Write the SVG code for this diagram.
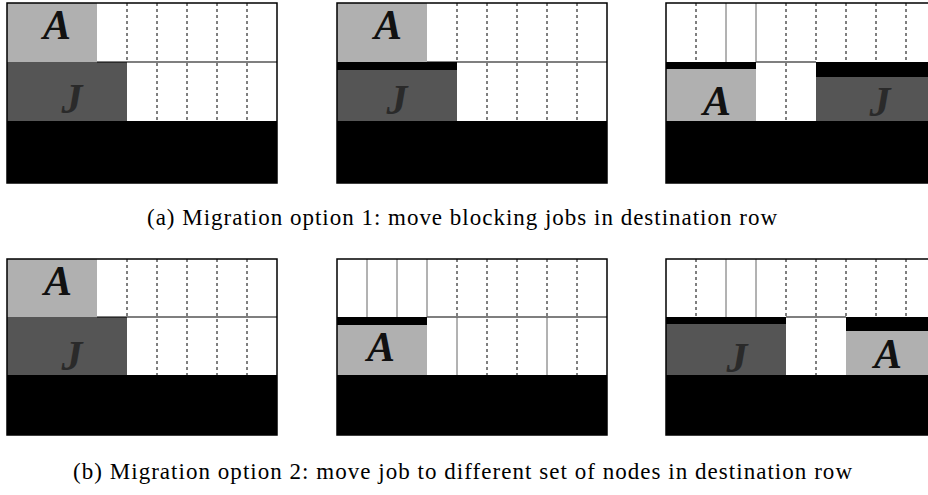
<svg xmlns="http://www.w3.org/2000/svg" width="928" height="495" viewBox="0 0 928 495">
<style>
.bg{fill:#fff}
.frame{fill:none;stroke:#000;stroke-width:1.5}
.a{fill:#b0b0b0}
.j{fill:#555}
.blk{fill:#000}
.sep{stroke:#000;stroke-width:1.2}
.dash{stroke:#000;stroke-width:1;stroke-dasharray:3 3}
.solid{stroke:#666;stroke-width:1}
.la{font-family:"Liberation Serif","Times New Roman",serif;font-weight:bold;font-style:italic;font-size:42px;fill:#111;text-anchor:middle}
.lj{font-family:"Liberation Serif","Times New Roman",serif;font-weight:bold;font-style:italic;font-size:42px;fill:#2a2a2a;text-anchor:middle}
.cap{font-family:"Liberation Serif","Times New Roman",serif;font-size:23px;fill:#000}
</style>

<g id="panel-a1">
<rect class="bg" x="7" y="3" width="270" height="180"/>
<rect class="a" x="7" y="3" width="90" height="59"/>
<rect class="j" x="7" y="62" width="120" height="59"/>
<rect class="blk" x="7" y="121" width="270" height="62"/>
<line class="sep" x1="97" y1="62" x2="277" y2="62"/>
<line class="dash" x1="127" y1="3" x2="127" y2="62"/>
<line class="dash" x1="157" y1="3" x2="157" y2="121"/>
<line class="dash" x1="187" y1="3" x2="187" y2="121"/>
<line class="dash" x1="217" y1="3" x2="217" y2="121"/>
<line class="dash" x1="247" y1="3" x2="247" y2="121"/>
<rect class="frame" x="7" y="3" width="270" height="180"/>
<text class="la" x="57" y="39">A</text>
<text class="lj" x="72" y="113">J</text>
</g>

<g id="panel-a2">
<rect class="bg" x="337" y="3" width="270" height="180"/>
<rect class="a" x="337" y="3" width="90" height="59"/>
<rect class="blk" x="337" y="62" width="120" height="8"/>
<rect class="j" x="337" y="70" width="120" height="51"/>
<rect class="blk" x="337" y="121" width="270" height="62"/>
<line class="sep" x1="427" y1="62" x2="607" y2="62"/>
<line class="dash" x1="457" y1="3" x2="457" y2="62"/>
<line class="dash" x1="487" y1="3" x2="487" y2="121"/>
<line class="dash" x1="517" y1="3" x2="517" y2="121"/>
<line class="dash" x1="547" y1="3" x2="547" y2="121"/>
<line class="dash" x1="577" y1="3" x2="577" y2="121"/>
<rect class="frame" x="337" y="3" width="270" height="180"/>
<text class="la" x="388" y="39">A</text>
<text class="lj" x="397" y="114">J</text>
</g>

<g id="panel-a3">
<rect class="bg" x="666" y="3" width="270" height="180"/>
<rect class="blk" x="666" y="62" width="90" height="7"/>
<rect class="a" x="666" y="69" width="90" height="52"/>
<rect class="blk" x="816" y="62" width="120" height="15"/>
<rect class="j" x="816" y="77" width="120" height="44"/>
<rect class="blk" x="666" y="121" width="270" height="62"/>
<line class="sep" x1="756" y1="62" x2="816" y2="62"/>
<line class="dash" x1="696" y1="3" x2="696" y2="62"/>
<line class="solid" x1="726" y1="3" x2="726" y2="62"/>
<line class="solid" x1="756" y1="3" x2="756" y2="62"/>
<line class="dash" x1="786" y1="3" x2="786" y2="121"/>
<line class="dash" x1="816" y1="3" x2="816" y2="62"/>
<line class="dash" x1="846" y1="3" x2="846" y2="62"/>
<line class="dash" x1="876" y1="3" x2="876" y2="62"/>
<line class="dash" x1="906" y1="3" x2="906" y2="62"/>
<rect class="frame" x="666" y="3" width="270" height="180"/>
<text class="la" x="717" y="115">A</text>
<text class="lj" x="880" y="116">J</text>
</g>

<g id="caption-a">
<text class="cap" x="147" y="225" textLength="630" lengthAdjust="spacing">(a) Migration option 1: move blocking jobs in destination row</text>
</g>

<g id="panel-b1">
<rect class="bg" x="7" y="259" width="270" height="176"/>
<rect class="a" x="7" y="259" width="90" height="58"/>
<rect class="j" x="7" y="317" width="120" height="58"/>
<rect class="blk" x="7" y="375" width="270" height="60"/>
<line class="sep" x1="97" y1="317" x2="277" y2="317"/>
<line class="dash" x1="127" y1="259" x2="127" y2="317"/>
<line class="dash" x1="157" y1="259" x2="157" y2="375"/>
<line class="dash" x1="187" y1="259" x2="187" y2="375"/>
<line class="dash" x1="217" y1="259" x2="217" y2="375"/>
<line class="dash" x1="247" y1="259" x2="247" y2="375"/>
<rect class="frame" x="7" y="259" width="270" height="176"/>
<text class="la" x="58" y="295">A</text>
<text class="lj" x="72" y="370">J</text>
</g>

<g id="panel-b2">
<rect class="bg" x="337" y="259" width="270" height="176"/>
<rect class="blk" x="337" y="317" width="90" height="8"/>
<rect class="a" x="337" y="325" width="90" height="50"/>
<rect class="blk" x="337" y="375" width="270" height="60"/>
<line class="sep" x1="427" y1="317" x2="607" y2="317"/>
<line class="solid" x1="367" y1="259" x2="367" y2="317"/>
<line class="solid" x1="397" y1="259" x2="397" y2="317"/>
<line class="solid" x1="427" y1="259" x2="427" y2="317"/>
<line class="dash" x1="457" y1="259" x2="457" y2="317"/>
<line class="solid" x1="457" y1="317" x2="457" y2="375"/>
<line class="dash" x1="487" y1="259" x2="487" y2="375"/>
<line class="dash" x1="517" y1="259" x2="517" y2="375"/>
<line class="dash" x1="547" y1="259" x2="547" y2="317"/>
<line class="solid" x1="547" y1="317" x2="547" y2="375"/>
<line class="dash" x1="577" y1="259" x2="577" y2="375"/>
<rect class="frame" x="337" y="259" width="270" height="176"/>
<text class="la" x="381" y="361">A</text>
</g>

<g id="panel-b3">
<rect class="bg" x="666" y="259" width="270" height="176"/>
<rect class="blk" x="666" y="317" width="120" height="7"/>
<rect class="j" x="666" y="324" width="120" height="51"/>
<rect class="blk" x="846" y="317" width="90" height="14"/>
<rect class="a" x="846" y="331" width="90" height="44"/>
<rect class="blk" x="666" y="375" width="270" height="60"/>
<line class="sep" x1="786" y1="317" x2="846" y2="317"/>
<line class="dash" x1="696" y1="259" x2="696" y2="317"/>
<line class="solid" x1="726" y1="259" x2="726" y2="317"/>
<line class="solid" x1="756" y1="259" x2="756" y2="317"/>
<line class="dash" x1="786" y1="259" x2="786" y2="317"/>
<line class="dash" x1="816" y1="259" x2="816" y2="375"/>
<line class="dash" x1="846" y1="259" x2="846" y2="317"/>
<line class="dash" x1="876" y1="259" x2="876" y2="317"/>
<line class="dash" x1="906" y1="259" x2="906" y2="317"/>
<rect class="frame" x="666" y="259" width="270" height="176"/>
<text class="lj" x="737" y="372">J</text>
<text class="la" x="888" y="368">A</text>
</g>

<g id="caption-b">
<text class="cap" x="73" y="479" textLength="779" lengthAdjust="spacing">(b) Migration option 2: move job to different set of nodes in destination row</text>
</g>
</svg>
